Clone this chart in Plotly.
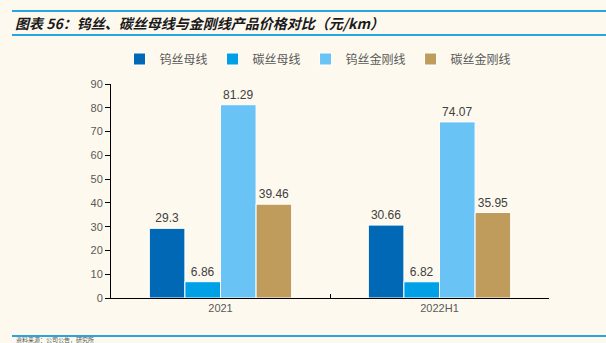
import plotly.graph_objects as go

categories = ["2021", "2022H1"]
series_names = ["钨丝母线", "碳丝母线", "钨丝金刚线", "碳丝金刚线"]
tungsten_busbar = [29.3, 30.66]
carbon_busbar = [6.86, 6.82]
tungsten_diamond = [81.29, 74.07]
carbon_diamond = [39.46, 35.95]
colors = ["#0068B4", "#00A0E6", "#69C3F5", "#BF9B5C"]
y_ticks = [0, 10, 20, 30, 40, 50, 60, 70, 80, 90]

W, H = 606, 343
L, R, T, B = 111, 57, 84, 45
pw, ph = W - L - R, H - T - B

def px(x):
    return (x - L) / pw

def py(y):
    return (H - B - y) / ph

fig = go.Figure()
for name, vals, c in zip(series_names,
                         [tungsten_busbar, carbon_busbar, tungsten_diamond, carbon_diamond],
                         colors):
    fig.add_trace(go.Bar(
        x=categories, y=vals, name=name,
        marker=dict(color=c, line=dict(color="#FFFFFF", width=1)),
        text=[f"{v:g}" for v in vals], textposition="outside",
        textfont=dict(size=12, color="#404040", family="Liberation Sans, Arial"),
        cliponaxis=False,
    ))

bg = "#FEF9EF"
fig.update_layout(
    width=W, height=H,
    margin=dict(l=L, r=R, t=T, b=B),
    paper_bgcolor=bg, plot_bgcolor=bg,
    barmode="group", bargap=0.35, bargroupgap=0,
    showlegend=True,
    legend=dict(orientation="h", x=px(318), xanchor="center", y=py(59), yanchor="middle",
                font=dict(size=12, color="#595959", family="Noto Sans CJK SC"),
                itemwidth=30, bgcolor="rgba(0,0,0,0)", traceorder="normal"),
    font=dict(family="Liberation Sans, Arial", color="#595959"),
)
fig.update_yaxes(range=[0, 90], tickvals=y_ticks, showgrid=False, zeroline=False,
                 showline=True, linecolor="#000000", linewidth=1,
                 ticks="outside", ticklen=5, tickcolor="#000000",
                 tickfont=dict(size=11, color="#595959"))
fig.update_xaxes(showgrid=False, showline=True, linecolor="#000000", linewidth=1,
                 ticks="inside", tickson="boundaries", ticklen=4, tickcolor="#000000",
                 tickfont=dict(size=11, color="#595959"))

line_color = "#29A6E0"
for yy in [11, 35, 336]:
    fig.add_shape(type="line", xref="paper", yref="paper",
                  x0=px(12), x1=px(606), y0=py(yy), y1=py(yy),
                  line=dict(color=line_color, width=2))

fig.add_annotation(text="<b><i>图表 56：钨丝、碳丝母线与金刚线产品价格对比（元/km）</i></b>",
                   xref="paper", yref="paper", x=px(13), y=py(23),
                   xanchor="left", yanchor="middle", showarrow=False,
                   font=dict(size=14, color="#1A1A1A", family="Noto Sans CJK SC"))
fig.add_annotation(text="资料来源：公司公告，研究所",
                   xref="paper", yref="paper", x=px(14), y=py(339.3),
                   xanchor="left", yanchor="middle", showarrow=False,
                   font=dict(size=6, color="#595959", family="Noto Sans CJK SC"))

fig.write_html("out.html")
